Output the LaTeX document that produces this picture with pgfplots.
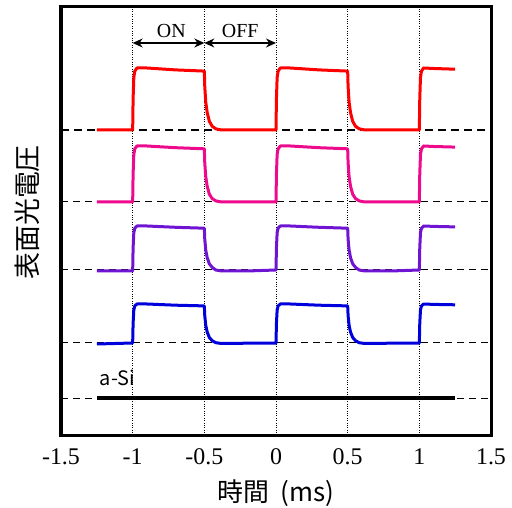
\documentclass[border=0pt]{standalone}
\usepackage{fontspec}
\setmainfont{Liberation Serif}
\newfontfamily\jp{Noto Sans CJK JP}
\usepackage{pgfplots}
\usepackage{pgfplotstable}
\pgfplotsset{compat=1.18}
\usetikzlibrary{arrows.meta}

\pgfplotstableread{
x r p v b
-1.25 305 233 164 91
-1.0 305 233 164 92
-0.997 336 261 187 111.5
-0.992 357.7 280.6 202.4 125.2
-0.985 363.9 286.2 206.8 129.1
-0.97 367 289 209 131
-0.9 367 289 209 131
-0.7 365.1 287.3 207.7 129.8
-0.5 363.9 286.2 206.8 129.1
-0.497 348.4 272.2 195.8 119.3
-0.49 332.9 258.2 184.8 109.6
-0.48 322.4 248.7 177.3 102.9
-0.465 313.7 240.8 171.2 97.5
-0.445 308.7 236.4 167.6 94.3
-0.42 306.2 234.1 165.0 92.3
-0.38 305 233 164 91.5
-0.2 305 233 164 91.8
0.0 305 233 165 92
0.003 336 261 187 111.5
0.008 357.7 280.6 202.4 125.2
0.015 363.9 286.2 206.8 129.1
0.03 367 289 209 131
0.1 367 289 209 131
0.3 365.1 287.3 207.7 129.8
0.5 363.9 286.2 206.8 129.1
0.503 348.4 272.2 195.8 119.3
0.51 332.9 258.2 184.8 109.6
0.52 322.4 248.7 177.3 102.9
0.535 313.7 240.8 171.2 97.5
0.555 308.7 236.4 167.6 94.3
0.58 306.2 234.1 165.0 92.3
0.62 305 233 164 91.5
0.8 305 233 164 91.8
1.0 305 233 165 92
1.003 336 261 187 111.5
1.008 357.7 280.6 202.4 125.2
1.015 363.9 286.2 206.8 129.1
1.03 367 289 209 131
1.1 366.5 288.5 208.6 130.6
1.25 365.8 287.9 208.1 130.2
}\data

\begin{document}
\begin{tikzpicture}
\begin{axis}[
  scale only axis, width=430bp, height=428bp,
  xmin=-1.5, xmax=1.5, ymin=0, ymax=428,
  xtick={-1.5,-1,-0.5,0,0.5,1,1.5}, ytick=\empty,
  xticklabels={-1.5,-1,-0.5,0,0.5,1,1.5},
  major tick length=0pt,
  xmajorgrids, grid style={black, dotted, line width=0.9bp},
  axis line style={line width=3bp},
  /pgf/number format/assume math mode=true,
  xticklabel style={font=\fontsize{24}{24}\selectfont, anchor=center, yshift=-22bp},
  xlabel={\jp 時間\hspace{0.45em}(ms)},
  xlabel style={font=\fontsize{26}{26}\selectfont, at={(axis description cs:0.5,-0.136)}, anchor=center},
  ylabel={\jp 表面光電圧},
  ylabel style={font=\fontsize{27}{27}\selectfont, at={(axis description cs:-0.079,0.52)}, anchor=center},
  clip=false,
]
\coordinate (ll) at (rel axis cs:0,0);
\coordinate (ur) at (rel axis cs:1,1);
% baselines
\addplot[black, line width=2bp, dash pattern=on 8bp off 5bp] coordinates {(-1.5,305) (1.5,305)};
\addplot[black, line width=1bp, dash pattern=on 7bp off 5bp] coordinates {(-1.5,233) (1.5,233)};
\addplot[black, line width=1bp, dash pattern=on 7bp off 5bp] coordinates {(-1.5,165) (1.5,165)};
\addplot[black, line width=1bp, dash pattern=on 7bp off 5bp] coordinates {(-1.5,92) (1.5,92)};
\addplot[black, line width=1bp, dash pattern=on 7bp off 5bp] coordinates {(-1.5,37) (1.5,37)};
% signals
\addplot[red, line width=3bp, line join=round] table[x=x, y=r] {\data};
\addplot[color={rgb,255:red,238;green,10;blue,140}, line width=3bp, line join=round] table[x=x, y=p] {\data};
\addplot[color={rgb,255:red,110;green,20;blue,210}, line width=3bp, line join=round] table[x=x, y=v] {\data};
\addplot[color={rgb,255:red,0;green,0;blue,220}, line width=3bp, line join=round] table[x=x, y=b] {\data};
\addplot[black, line width=3.5bp] coordinates {(-1.25,37) (1.25,37)};
% annotations
\draw[{Stealth[length=10bp,width=9bp]}-{Stealth[length=10bp,width=9bp]}, line width=1.4bp] (axis cs:-1,392) -- (axis cs:-0.5,392);
\draw[{Stealth[length=10bp,width=9bp]}-{Stealth[length=10bp,width=9bp]}, line width=1.4bp] (axis cs:-0.5,392) -- (axis cs:0,392);
\node[font=\fontsize{20}{20}\selectfont] at (axis cs:-0.73,404) {ON};
\node[font=\fontsize{20}{20}\selectfont] at (axis cs:-0.25,404) {OFF};
\node[font=\jp\fontsize{20}{20}\selectfont, anchor=west, inner sep=0pt] at (axis cs:-1.23,57) {a-Si};
\end{axis}
\pgfresetboundingbox
\path[use as bounding box] ([shift={(-61bp,-73bp)}]ll) rectangle ([shift={(21bp,7bp)}]ur);
\end{tikzpicture}
\end{document}
